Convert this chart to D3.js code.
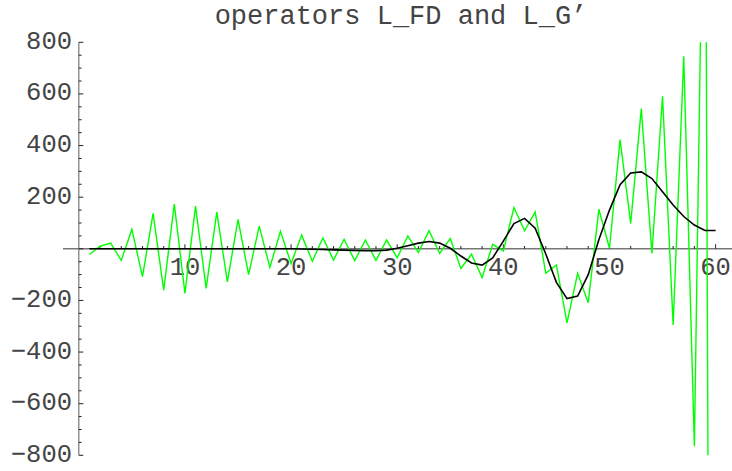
<!DOCTYPE html>
<html>
<head>
<meta charset="utf-8">
<script src="https://cdn.jsdelivr.net/npm/d3@7"></script>
<style>
  html, body { margin: 0; padding: 0; background: #fff; }
  svg { display: block; }
  text { font-family: "Liberation Mono", "Courier New", monospace; fill: #444; }
</style>
</head>
<body>
<svg id="chart" width="732" height="471"></svg>
<script>
// ---- data ----
const titleText = "operators L_FD and L_G\u2019";
const xValues = d3.range(1, 61);
const fdValues = [
  -22, 10, 22, -45, 75, -108, 137, -160, 173, -173,
  165, -153, 142, -128, 114, -100, 88, -72, 68, -57,
  53, -48, 42, -44, 37, -46, 34, -45, 34, -35,
  50, -15, 70, -18, 40, -76, -21, -111, 17, -8,
  160, 70, 142, -95, -63, -287, -95, -209, 153, 2,
  423, 98, 543, -18, 591, -295, 746, -765, 2000, -8000
];
const gValues = [
  0, 0, 0, 0, 0, 0, 0, 0, 0, 0,
  0, 0, 0, 0, 0, 0, 0, 0, 0, 0,
  -1, -2, -3, -4, -5, -6, -7, -7, -5, 2,
  12, 22, 28, 22, 2, -28, -55, -63, -35, 30,
  98, 118, 80, -20, -130, -193, -183, -100, 35, 150,
  248, 294, 298, 272, 221, 170, 125, 92, 71, 71
];
const yMajorTicks = [-800, -600, -400, -200, 200, 400, 600, 800];
const yMinorTicks = d3.range(-800, 801, 50);
const xMajorTicks = [10, 20, 30, 40, 50, 60];
const xMinorTicks = d3.range(2, 61, 2);

// ---- scales ----
const x = d3.scaleLinear().domain([0, 60]).range([78.8, 715.6]);
const y = d3.scaleLinear().domain([-800, 800]).range([455.3, 42.3]);

const svg = d3.select("#chart");

svg.append("defs").append("clipPath").attr("id", "clip")
  .append("rect").attr("x", 0).attr("y", y(800)).attr("width", 732).attr("height", y(-800) - y(800));

// ---- axes ----
const axisColor = "#777";
svg.append("line")
  .attr("x1", 63).attr("x2", 732).attr("y1", y(0)).attr("y2", y(0))
  .attr("stroke", axisColor).attr("stroke-width", 1.6);
svg.append("line")
  .attr("x1", x(0)).attr("x2", x(0)).attr("y1", y(800)).attr("y2", y(-800))
  .attr("stroke", axisColor).attr("stroke-width", 1.2);

svg.append("g").selectAll("line").data(yMinorTicks).join("line")
  .attr("x1", x(0)).attr("x2", d => x(0) + (d % 200 === 0 ? 4.5 : 2.8))
  .attr("y1", d => y(d)).attr("y2", d => y(d))
  .attr("stroke", "#222").attr("stroke-width", 1);
svg.append("g").selectAll("line").data(xMinorTicks).join("line")
  .attr("x1", d => x(d)).attr("x2", d => x(d))
  .attr("y1", y(0)).attr("y2", d => y(0) - (d % 10 === 0 ? 4.5 : 2.8))
  .attr("stroke", "#222").attr("stroke-width", 1);

svg.append("g").selectAll("text").data(yMajorTicks).join("text")
  .attr("x", 72).attr("y", d => y(d))
  .attr("text-anchor", "end").attr("dominant-baseline", "central")
  .attr("font-size", 25.5)
  .text(d => d < 0 ? "\u2212" + Math.abs(d) : String(d));
svg.append("g").selectAll("text").data(xMajorTicks).join("text")
  .attr("x", d => x(d)).attr("y", y(0) + 26)
  .attr("text-anchor", "middle")
  .attr("font-size", 25.5)
  .text(d => String(d));

svg.append("text").attr("x", 401).attr("y", 23.5)
  .attr("text-anchor", "middle").attr("font-size", 27)
  .text(titleText);

// ---- lines ----
const line = d3.line().x((d, i) => x(xValues[i])).y(d => y(d));
const plot = svg.append("g").attr("clip-path", "url(#clip)");
plot.append("path").datum(fdValues)
  .attr("d", line).attr("fill", "none")
  .attr("stroke", "#00ff00").attr("stroke-width", 1.4).attr("stroke-linejoin", "miter");
plot.append("path").datum(gValues)
  .attr("d", line).attr("fill", "none")
  .attr("stroke", "#000").attr("stroke-width", 1.6);
</script>
</body>
</html>
